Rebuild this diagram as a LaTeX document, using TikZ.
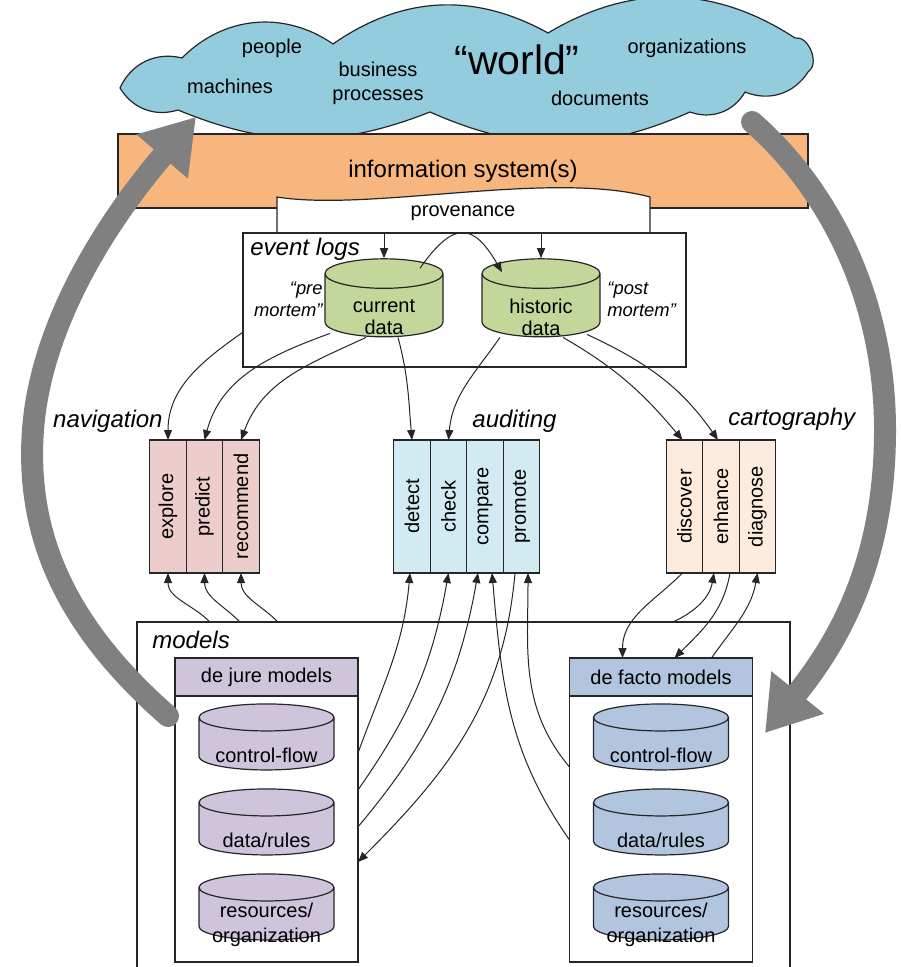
\documentclass[tikz,border=0pt]{standalone}
\usepackage{fontspec}
\setmainfont{Liberation Sans}
\usepackage{graphicx}
\usetikzlibrary{positioning, arrows.meta, shapes.geometric, calc}

\definecolor{cloudblue}{RGB}{147,205,221}
\definecolor{isorange}{RGB}{248,182,127}
\definecolor{loggreen}{RGB}{196,215,155}
\definecolor{navpink}{RGB}{236,205,204}
\definecolor{auditblue}{RGB}{210,234,241}
\definecolor{cartopeach}{RGB}{253,236,222}
\definecolor{jurepurple}{RGB}{206,196,220}
\definecolor{factoblue}{RGB}{178,197,222}
\definecolor{bigarrow}{RGB}{128,128,128}

\begin{document}
\begin{tikzpicture}[
    x=0.5pt, y=0.5pt,
    every node/.style={font=\fontsize{10}{12}\selectfont},
    outline/.style={draw=black!85, line width=0.6pt},
    frame/.style={rectangle, outline, fill=white, inner sep=0pt, outer sep=0pt},
    action/.style={frame, minimum width=18.25pt, minimum height=66.5pt},
    db/.style={cylinder, shape border rotate=90, outline, aspect=0.25, inner sep=0pt},
    modeldb/.style={db, aspect=0.2, minimum height=33pt},
    dbtext/.style={align=center, inner sep=0pt, yshift=-5.5pt, font=\fontsize{10}{11}\selectfont},
    tag/.style={inner sep=0pt, font=\fontsize{12}{14}\selectfont\itshape},
    note/.style={inner sep=0pt, font=\fontsize{9.2}{11}\selectfont\itshape},
    flow/.style={-{Triangle[length=5pt, width=4pt]}, draw=black!85, line width=0.5pt},
    looparrow/.style={draw=bigarrow, line width=11pt, line cap=round, -{Triangle[length=26pt, width=32pt]}}
]
\useasboundingbox (0,0) rectangle (900,-967);
\clip (0,0) rectangle (900,-967);

% the world
\draw[outline, fill=cloudblue] (120,-88) to[bend left=40] (182,-58) to[bend left=40] (333,-44)
    to[bend left=32] (548,-33) to[bend left=32] (795,-38) to[bend left=80] (808,-72)
    to[bend left=40] (745,-92) to[bend left=40] (690,-112) to[bend left=24] (430,-112)
    to[bend left=22] (178,-110) to[bend left=38] (120,-88) -- cycle;
\node (people) at (272,-48) {people};
\node (machines) at (230,-86) {machines};
\node[align=center] (business) at (378,-83) {business\\processes};
\node[font=\fontsize{20.5}{24}\selectfont] (world) at (517,-60) {“world”};
\node (organizations) at (687,-48) {organizations};
\node (documents) at (600,-98) {documents};

% information system and provenance
\node[frame, fill=isorange, minimum width=345pt, minimum height=37pt, font=\fontsize{12}{14}\selectfont] (infosys) at (463,-171) {information system(s)};
\draw[outline, fill=white] (277,-233) -- (277,-197) .. controls (370,-212) and (550,-170) .. (650,-197) -- (650,-233) -- cycle;
\node (prov) at (463,-213) {provenance};

% event logs
\node[frame, minimum width=221.5pt, minimum height=67pt] (elog) at (464.5,-300) {};
\node[tag, anchor=base west] (eloglabel) at (250,-256) {event logs};
\node[db, fill=loggreen, minimum height=39pt,
      label={[dbtext, yshift=-0.5pt]center:{current\\data}}] (cur) at (384,-305.5) {\hspace*{59pt}};
\node[db, fill=loggreen, minimum height=39pt,
      label={[dbtext, yshift=-0.5pt]center:{historic\\data}}] (hist) at (541,-305.5) {\hspace*{59pt}};
\node[note, anchor=east, align=right] (pre) at (323,-299) {“pre\\mortem”};
\node[note, anchor=west, align=left] (post) at (607,-299) {“post\\mortem”};

% navigation, auditing, cartography
\node[action, fill=navpink] (explore) at (168,-506.5) {\rotatebox{90}{explore}};
\node[action, fill=navpink, right=0pt of explore] (predict) {\rotatebox{90}{predict}};
\node[action, fill=navpink, right=0pt of predict] (recommend) {\rotatebox{90}{recommend}};
\node[tag, anchor=base east] (navlabel) at (163,-427) {navigation};

\node[action, fill=auditblue] (detect) at (412,-506.5) {\rotatebox{90}{detect}};
\node[action, fill=auditblue, right=0pt of detect] (check) {\rotatebox{90}{check}};
\node[action, fill=auditblue, right=0pt of check] (compare) {\rotatebox{90}{compare}};
\node[action, fill=auditblue, right=0pt of compare] (promote) {\rotatebox{90}{promote}};
\node[tag, anchor=base west] (auditlabel) at (472,-427) {auditing};

\node[action, fill=cartopeach] (discover) at (684.5,-506.5) {\rotatebox{90}{discover}};
\node[action, fill=cartopeach, right=0pt of discover] (enhance) {\rotatebox{90}{enhance}};
\node[action, fill=cartopeach, right=0pt of enhance] (diagnose) {\rotatebox{90}{diagnose}};
\node[tag, anchor=base west] (cartolabel) at (728,-425) {cartography};

% models
\node[frame, anchor=north west, minimum width=326.5pt, minimum height=190pt] (models) at (137,-622) {};
\node[tag, anchor=base west] (modelslabel) at (152,-648) {models};

\node[frame, fill=jurepurple, minimum width=91.5pt, minimum height=19pt] (jurehead) at (266.5,-677) {de jure models};
\node[frame, minimum width=91.5pt, minimum height=133pt, below=0pt of jurehead] (jure) {};
\node[modeldb, fill=jurepurple, label={[dbtext]center:control-flow}] (jcf) at ([yshift=-24pt]jure.north) {\hspace*{67.5pt}};
\node[modeldb, fill=jurepurple, label={[dbtext]center:data/rules}] (jdr) at ([yshift=-66.5pt]jure.north) {\hspace*{67.5pt}};
\node[modeldb, fill=jurepurple, label={[dbtext, font=\fontsize{10}{12.5}\selectfont]center:{resources/\\organization}}] (jro) at ([yshift=-109pt]jure.north) {\hspace*{67.5pt}};

\node[frame, fill=factoblue, minimum width=91.5pt, minimum height=19pt] (factohead) at (661,-677) {de facto models};
\node[frame, minimum width=91.5pt, minimum height=133pt, below=0pt of factohead] (facto) {};
\node[modeldb, fill=factoblue, label={[dbtext]center:control-flow}] (fcf) at ([yshift=-24pt]facto.north) {\hspace*{67.5pt}};
\node[modeldb, fill=factoblue, label={[dbtext]center:data/rules}] (fdr) at ([yshift=-66.5pt]facto.north) {\hspace*{67.5pt}};
\node[modeldb, fill=factoblue, label={[dbtext, font=\fontsize{10}{12.5}\selectfont]center:{resources/\\organization}}] (fro) at ([yshift=-109pt]facto.north) {\hspace*{67.5pt}};

% provenance into the logs
\draw[flow] (cur.north |- elog.north) -- (cur.north);
\draw[flow] (hist.north |- elog.north) -- (hist.north);
\draw[flow] ([xshift=18pt, yshift=-5pt]cur.north) to[out=55, in=120, looseness=1.8] ([xshift=-19.5pt, yshift=-7pt]hist.north);

% logs to the actions
\draw[flow] ($(elog.south west)!0.26!(elog.north west)$) to[out=215, in=90] (explore.north);
\draw[flow] ([xshift=-27pt, yshift=2pt]cur.south) to[out=200, in=75] (predict.north);
\draw[flow] ([xshift=-9pt]cur.south) to[out=205, in=70] (recommend.north);
\draw[flow] ([xshift=7pt]cur.south) to[out=-75, in=95] (detect.north);
\draw[flow] ([xshift=-20.5pt]hist.south) to[out=235, in=85] (check.north);
\draw[flow] ([xshift=11pt]hist.south) to[out=-30, in=130] ([xshift=-1pt]discover.north);
\draw[flow] ([xshift=23pt, yshift=1.5pt]hist.south) to[out=-25, in=125] ([xshift=-1.5pt]enhance.north);

% models to the actions
\draw[flow] ([xshift=36.5pt]models.north west) to[out=135, in=-90] (explore.south);
\draw[flow] ([xshift=51.5pt]models.north west) to[out=135, in=-90] (predict.south);
\draw[flow] ([xshift=70.5pt]models.north west) to[out=135, in=-90] (recommend.south);

\draw[flow] ($(jure.north east)!0.214!(jure.south east)$) to[out=70, in=-95] ([xshift=-1pt]detect.south);
\draw[flow] ($(jure.north east)!0.353!(jure.south east)$) to[out=55, in=-100] (check.south);
\draw[flow] ($(jure.north east)!0.492!(jure.south east)$) to[out=50, in=-100] ([xshift=-3.5pt]compare.south);
\draw[flow] ([xshift=-3.25pt]promote.south) to[out=-95, in=45] ($(jure.north east)!0.624!(jure.south east)$);
\draw[flow] ($(facto.north west)!0.541!(facto.south west)$) to[out=125, in=-85] ([xshift=3.5pt]compare.south);
\draw[flow] ($(facto.north west)!0.267!(facto.south west)$) to[out=130, in=-90] ([xshift=3.25pt]promote.south);

\draw[flow] ([xshift=-1pt]discover.south) to[out=-135, in=90] ([xshift=26.5pt]factohead.north west);
\draw[flow] ([xshift=268pt]models.north west) to[out=25, in=-100] ([xshift=-3.5pt]enhance.south);
\draw[flow] ([xshift=4.5pt]enhance.south) to[out=-100, in=45] ([xshift=52.5pt]factohead.north west);
\draw[flow] ([xshift=71pt]factohead.north west) to[out=55, in=-100] (diagnose.south);

% the big loop
\draw[looparrow] (168,-716) .. controls (70,-630) and (25,-540) .. (33,-430) .. controls (41,-320) and (112,-215) .. (196,-117);
\draw[looparrow] (752,-122) .. controls (830,-190) and (885,-300) .. (885,-430) .. controls (885,-560) and (840,-640) .. (765,-733);

\end{tikzpicture}
\end{document}
